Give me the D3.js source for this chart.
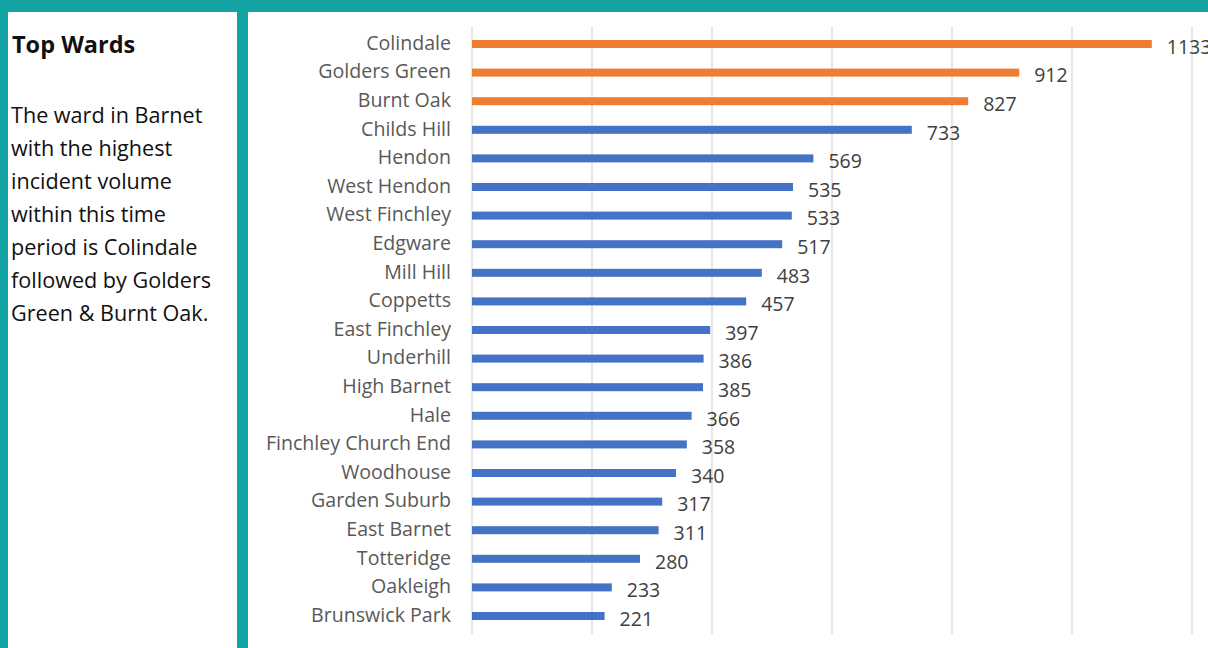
<!DOCTYPE html>
<html><head><meta charset="utf-8">
<script src="https://cdn.jsdelivr.net/npm/d3@7"></script>
<style>body{margin:0;background:#fff;}svg{display:block;}</style>
</head><body>
<svg id="c" width="1208" height="648"></svg>
<script>
const wards = ["Colindale","Golders Green","Burnt Oak","Childs Hill","Hendon","West Hendon","West Finchley","Edgware","Mill Hill","Coppetts","East Finchley","Underhill","High Barnet","Hale","Finchley Church End","Woodhouse","Garden Suburb","East Barnet","Totteridge","Oakleigh","Brunswick Park"];
const incidents = [1133,912,827,733,569,535,533,517,483,457,397,386,385,366,358,340,317,311,280,233,221];
const highlighted = ["Colindale","Golders Green","Burnt Oak"];
const xTicks = [0,200,400,600,800,1000,1200];
const title = "Top Wards";
const para = ["The ward in Barnet","with the highest","incident volume","within this time","period is Colindale","followed by Golders","Green & Burnt Oak."];

const svg = d3.select("#c");
const teal = "#13a3a3";
svg.append("rect").attr("x",0).attr("y",0).attr("width",1208).attr("height",12).attr("fill",teal);
svg.append("rect").attr("x",0).attr("y",0).attr("width",8).attr("height",648).attr("fill",teal);
svg.append("rect").attr("x",237).attr("y",0).attr("width",11).attr("height",648).attr("fill",teal);

const font = "'Open Sans', sans-serif";
svg.append("text").attr("x",12).attr("y",53).text(title)
  .attr("font-family",font).attr("font-size",23.5).attr("font-weight","bold").attr("fill","#111");
svg.append("g").selectAll("text").data(para).join("text")
  .attr("x",11).attr("y",(d,i)=>123+i*33).text(d=>d)
  .attr("font-family",font).attr("font-size",21.6).attr("fill","#111");

const x = d3.scaleLinear().domain([0,1200]).range([472,1192]);
const y = d3.scalePoint().domain(wards).range([44,616]);

svg.append("g").selectAll("line").data(xTicks).join("line")
  .attr("x1",d=>x(d)).attr("x2",d=>x(d)).attr("y1",26).attr("y2",634)
  .attr("stroke","#d9d9d9").attr("stroke-width",1.3);

svg.append("g").selectAll("rect").data(wards).join("rect")
  .attr("x",x(0)).attr("y",d=>y(d)-4).attr("height",8)
  .attr("width",(d,i)=>x(incidents[i])-x(0))
  .attr("fill",d=>highlighted.includes(d)?"#ED7D31":"#4472C4");

svg.append("g").selectAll("text").data(wards).join("text")
  .attr("x",451).attr("y",d=>y(d)-1).attr("dy","0.35em").attr("text-anchor","end")
  .text(d=>d).attr("font-family",font).attr("font-size",19.6).attr("fill","#595959");

svg.append("g").selectAll("text").data(wards).join("text")
  .attr("x",(d,i)=>x(incidents[i])+15).attr("y",d=>y(d)+3).attr("dy","0.35em")
  .text((d,i)=>incidents[i]).attr("font-family",font).attr("font-size",19.5).attr("fill","#404040");
</script>
</body></html>
